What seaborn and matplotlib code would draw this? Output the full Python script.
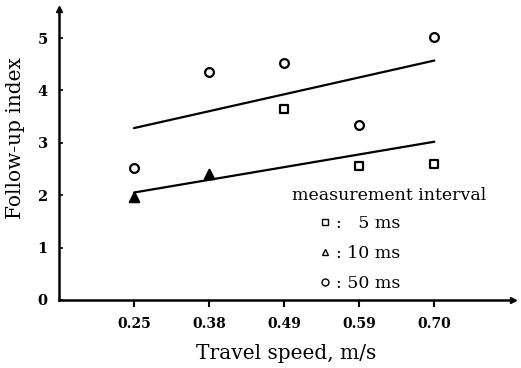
import numpy as np
import pandas as pd
import seaborn as sns
import matplotlib.pyplot as plt
from matplotlib.lines import Line2D

# velocidades (eje x categórico, espaciado uniforme)
speeds = ["0.25", "0.38", "0.49", "0.59", "0.70"]

# puntos medidos por intervalo de medición
ms5_speed = ["0.49", "0.59", "0.70"]
ms5_index = [3.65, 2.55, 2.60]
ms10_speed = ["0.25", "0.38"]
ms10_index = [1.97, 2.40]
ms50_speed = ["0.25", "0.38", "0.49", "0.59", "0.70"]
ms50_index = [2.52, 4.35, 4.52, 3.33, 5.02]

# rectas de ajuste (extremos)
fit_speed = ["0.25", "0.70"]
fit_upper = [3.28, 4.57]
fit_lower = [2.05, 3.02]

yticks = [0, 1, 2, 3, 4, 5]

sns.set_style("ticks")
plt.rcParams['font.family'] = ['DejaVu Serif']
plt.rcParams.update({"text.color": "black", "axes.labelcolor": "black",
                     "xtick.color": "black", "ytick.color": "black",
                     "axes.edgecolor": "black"})

pos = {s: i + 1 for i, s in enumerate(speeds)}

df = pd.concat([
    pd.DataFrame({"speed": ms5_speed, "index": ms5_index, "interval": "5 ms"}),
    pd.DataFrame({"speed": ms10_speed, "index": ms10_index, "interval": "10 ms"}),
    pd.DataFrame({"speed": ms50_speed, "index": ms50_index, "interval": "50 ms"}),
])
df["x"] = df["speed"].map(pos)

fits = pd.concat([
    pd.DataFrame({"speed": fit_speed, "index": fit_upper, "line": "upper"}),
    pd.DataFrame({"speed": fit_speed, "index": fit_lower, "line": "lower"}),
])
fits["x"] = fits["speed"].map(pos)

fig = plt.figure(figsize=(5.21, 3.68), dpi=100)
ax = fig.add_axes([0.113, 0.185, 0.872, 0.79])

sns.lineplot(data=fits, x="x", y="index", units="line", estimator=None,
             color="black", linewidth=1.6, ax=ax, legend=False)

marker_map = {"5 ms": "s", "10 ms": "^", "50 ms": "o"}
size_map = {"5 ms": 30, "10 ms": 45, "50 ms": 40}
for name, sub in df.groupby("interval"):
    face = "black" if name == "10 ms" else "white"
    sns.scatterplot(data=sub, x="x", y="index", marker=marker_map[name],
                    s=size_map[name], facecolor=face, edgecolor="black",
                    linewidth=1.6, ax=ax, legend=False, zorder=3)

ax.set_xlim(0, 6.05)
ax.set_ylim(0, 5.55)
ax.set_xticks(range(1, len(speeds) + 1))
ax.set_xticklabels(speeds, fontweight="bold", fontsize=10)
ax.set_yticks(yticks)
ax.set_yticklabels([str(t) for t in yticks], fontweight="bold", fontsize=10.5)
ax.tick_params(axis="x", direction="out", length=5, width=1.5, pad=7)
ax.tick_params(axis="y", direction="in", length=3, width=1.2, pad=8)

for side in ["top", "right"]:
    ax.spines[side].set_visible(False)
for side in ["left", "bottom"]:
    ax.spines[side].set_linewidth(1.8)

# flechas de los ejes
ax.plot(1, 0, ">k", markersize=5, transform=ax.get_yaxis_transform(), clip_on=False)
ax.plot(0, 1, "^k", markersize=5, transform=ax.get_xaxis_transform(), clip_on=False)

ax.set_xlabel("Travel speed, m/s", fontsize=14.5, labelpad=10)
ax.set_ylabel("Follow-up index", fontsize=14.5)
ax.yaxis.set_label_coords(-0.075, 0.557)

# leyenda: título aparte y entradas con sangría
fig.text(292 / 521, 1 - 195 / 368, "measurement interval", fontsize=12.5,
         ha="left", va="center")
handles = [
    Line2D([], [], linestyle="none", marker="s", markersize=4, mfc="white", mec="black", mew=1),
    Line2D([], [], linestyle="none", marker="^", markersize=5, mfc="white", mec="black", mew=1),
    Line2D([], [], linestyle="none", marker="o", markersize=5, mfc="white", mec="black", mew=1),
]
labels = [": \u20075 ms", ": 10 ms", ": 50 ms"]
ax.legend(handles, labels, frameon=False, loc="upper left",
          bbox_to_anchor=(320 / 521, 1 - 215 / 368), bbox_transform=fig.transFigure,
          handlelength=0.6, handletextpad=0.3, labelspacing=0.75,
          borderpad=0, borderaxespad=0, fontsize=12.5)

plt.savefig("out.png", dpi=100)
